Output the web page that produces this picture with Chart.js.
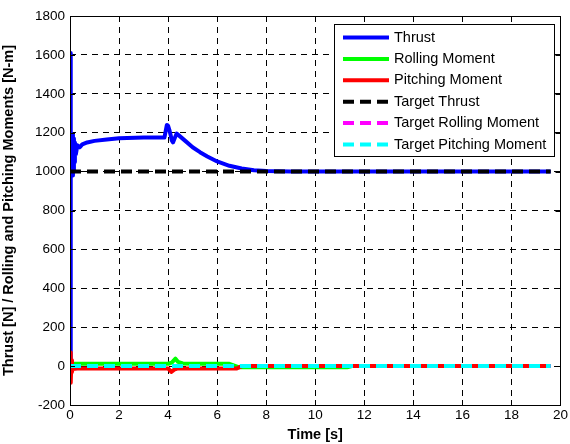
<!DOCTYPE html>
<html>
<head>
<meta charset="utf-8">
<script src="https://cdn.jsdelivr.net/npm/chart.js@4.4.1/dist/chart.umd.min.js"></script>
<style>
  html, body { margin: 0; padding: 0; background: #fff; }
  #wrap { width: 570px; height: 444px; }
</style>
</head>
<body>
<div id="wrap"><canvas id="chart" width="570" height="444"></canvas></div>
<script>
// valores (tempo em s)
const timeThrust = [0, 0.02, 0.04, 0.06, 0.08, 0.1, 0.12, 0.14, 0.16, 0.18, 0.2, 0.24, 0.3, 0.4, 0.5, 0.7, 1.0, 1.5, 2.0, 3.0, 3.85, 3.95, 4.0, 4.05, 4.1, 4.15, 4.2, 4.28, 4.35, 4.45, 4.7, 5.0, 5.3, 5.6, 6.0, 6.5, 7.0, 7.5, 8.0, 9.0, 19.6];
const thrustValues = [0, 1610, 1100, 1020, 1180, 980, 1190, 1000, 1170, 1050, 1150, 1090, 1135, 1125, 1140, 1150, 1158, 1165, 1172, 1175, 1175, 1240, 1235, 1215, 1190, 1160, 1150, 1175, 1195, 1185, 1158, 1125, 1100, 1078, 1052, 1030, 1016, 1007, 1003, 1000, 1000];

const timeRolling = [0, 0.03, 0.06, 0.2, 4.0, 4.15, 4.3, 4.4, 4.6, 5.0, 6.5, 6.9, 11.3, 11.5, 19.6];
const rollingValues = [0, 20, 8, 12, 12, 18, 38, 22, 14, 12, 12, -6, -6, 0, 0];

const timePitching = [0, 0.02, 0.04, 0.06, 0.08, 0.1, 0.3, 4.0, 4.13, 4.25, 4.4, 6.8, 7.0, 19.6];
const pitchingValues = [0, 70, -85, 30, -30, -15, -12, -12, -30, -18, -12, -12, 0, 0];

const timeTarget = [0, 19.6];
const targetThrustValues = [1000, 1000];
const targetRollingValues = [0, 0];
const targetPitchingValues = [0, 0];

const xTickValues = [0, 2, 4, 6, 8, 10, 12, 14, 16, 18, 20];
const yTickValues = [-200, 0, 200, 400, 600, 800, 1000, 1200, 1400, 1600, 1800];

function pares(t, v) {
    return t.map((x, i) => ({ x: x, y: v[i] }));
}

const datasets = [
    { label: 'Thrust', data: pares(timeThrust, thrustValues), borderColor: '#0000ff', dash: [], order: 6 },
    { label: 'Rolling Moment', data: pares(timeRolling, rollingValues), borderColor: '#00ff00', dash: [], order: 5 },
    { label: 'Pitching Moment', data: pares(timePitching, pitchingValues), borderColor: '#ff0000', dash: [], order: 4 },
    { label: 'Target Thrust', data: pares(timeTarget, targetThrustValues), borderColor: '#000000', dash: [11, 6], order: 3 },
    { label: 'Target Rolling Moment', data: pares(timeTarget, targetRollingValues), borderColor: '#ff00ff', dash: [11, 6], order: 2 },
    { label: 'Target Pitching Moment', data: pares(timeTarget, targetPitchingValues), borderColor: '#00ffff', dash: [11, 6], order: 1 }
].map(d => ({
    label: d.label,
    data: d.data,
    borderColor: d.borderColor,
    backgroundColor: d.borderColor,
    borderDash: d.dash,
    borderWidth: 4,
    borderCapStyle: 'butt',
    borderJoinStyle: 'round',
    pointRadius: 0,
    tension: 0,
    fill: false,
    order: d.order
}));

// moldura, marcas internas e legenda no estilo MATLAB
const molduraPlugin = {
    id: 'moldura',
    afterDraw(chart) {
        const ctx = chart.ctx;
        const a = chart.chartArea;
        const xs = chart.scales.x, ys = chart.scales.y;
        ctx.save();
        ctx.strokeStyle = '#000';
        ctx.lineWidth = 1;
        ctx.setLineDash([]);
        ctx.beginPath();
        xTickValues.forEach(v => {
            const px = Math.round(xs.getPixelForValue(v)) + 0.5;
            ctx.moveTo(px, a.bottom); ctx.lineTo(px, a.bottom - 5);
            ctx.moveTo(px, a.top); ctx.lineTo(px, a.top + 5);
        });
        yTickValues.forEach(v => {
            const py = Math.round(ys.getPixelForValue(v)) + 0.5;
            ctx.moveTo(a.left, py); ctx.lineTo(a.left + 5, py);
            ctx.moveTo(a.right, py); ctx.lineTo(a.right - 5, py);
        });
        ctx.stroke();
        ctx.strokeRect(Math.round(a.left) + 0.5, Math.round(a.top) + 0.5,
            Math.round(a.right - a.left), Math.round(a.bottom - a.top));

        // legenda
        const bx = 334.5, by = 24.5, bw = 220, bh = 132;
        ctx.fillStyle = '#fff';
        ctx.fillRect(bx, by, bw, bh);
        ctx.strokeRect(bx, by, bw, bh);
        ctx.font = '14.5px "Liberation Sans", Arial, sans-serif';
        ctx.textBaseline = 'middle';
        chart.data.datasets.forEach((ds, i) => {
            const yy = by + 13 + i * 21.4;
            ctx.strokeStyle = ds.borderColor;
            ctx.lineWidth = 4;
            ctx.lineCap = 'butt';
            ctx.setLineDash(ds.borderDash.length ? [11, 6] : []);
            ctx.beginPath();
            ctx.moveTo(343, yy);
            ctx.lineTo(389, yy);
            ctx.stroke();
            ctx.setLineDash([]);
            ctx.fillStyle = '#000';
            ctx.fillText(ds.label, 394, yy);
        });
        ctx.restore();
    }
};

const fonteTicks = { family: '"Liberation Sans", Arial, sans-serif', size: 13.5 };
const fonteTitulo = { family: '"Liberation Sans", Arial, sans-serif', size: 14.5, weight: 'bold' };

const config = {
    type: 'line',
    data: { datasets: datasets },
    options: {
        responsive: false,
        animation: false,
        layout: { padding: { top: 16, right: 8, left: 0, bottom: 0 } },
        plugins: {
            legend: { display: false },
            tooltip: { enabled: false }
        },
        scales: {
            x: {
                type: 'linear',
                min: 0,
                max: 20,
                afterBuildTicks: s => { s.ticks = xTickValues.map(v => ({ value: v })); },
                afterFit: s => { s.height = 39; },
                ticks: { color: '#000', font: fonteTicks, padding: 2, maxRotation: 0, callback: v => String(v) },
                grid: { color: '#000', lineWidth: 1, drawTicks: false },
                border: { display: false, dash: [6, 5] },
                title: { display: true, text: 'Time [s]', color: '#000', font: fonteTitulo, padding: { top: 0, bottom: 0 } }
            },
            y: {
                type: 'linear',
                min: -200,
                max: 1800,
                afterBuildTicks: s => { s.ticks = yTickValues.map(v => ({ value: v })); },
                afterFit: s => { s.width = 70; },
                ticks: { color: '#000', font: fonteTicks, padding: 5, callback: v => String(v) },
                grid: { color: '#000', lineWidth: 1, drawTicks: false },
                border: { display: false, dash: [6, 5] },
                title: { display: true, text: 'Thrust [N] / Rolling and Pitching Moments [N-m]', color: '#000', font: fonteTitulo, padding: { top: 0, bottom: 0 } }
            }
        }
    },
    plugins: [molduraPlugin]
};

const grafico = new Chart(document.getElementById('chart'), config);
</script>
</body>
</html>
